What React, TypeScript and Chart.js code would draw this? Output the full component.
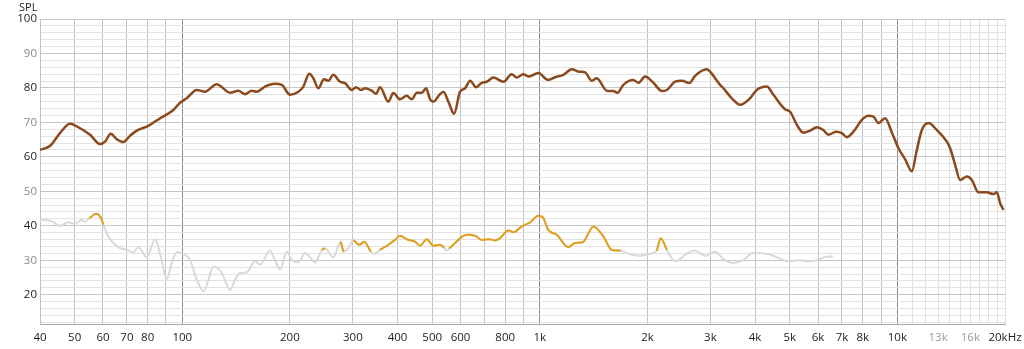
import React, { useEffect, useRef } from 'react';
import { Chart, registerables } from 'chart.js';

Chart.register(...registerables);

// Frequency response (brown)
const brownFreq = [40, 42.7, 45.5, 48.5, 51.8, 55.2, 58.9, 60.8, 63.1, 65.6, 68.4, 71.4, 74.6, 80.4, 86.7, 94.4, 98.6, 102.9, 109.8, 115.8, 124.8, 136.0, 143.5, 149.8, 156.4, 161.5, 170.4, 181.7, 189.8, 200.2, 211.2, 218.1, 226.6, 232.6, 240.2, 249.1, 256.1, 264.5, 276.2, 285.2, 297.8, 306.2, 316.2, 324.5, 338.8, 348.4, 357.3, 377.0, 389.4, 406.4, 424.4, 438.4, 452.9, 467.7, 480.8, 493.3, 503.9, 523.7, 537.4, 555.0, 575.6, 598.3, 618.0, 638.3, 663.4, 688.1, 710.7, 741.6, 790.9, 834.5, 861.9, 899.2, 928.8, 990.5, 1056, 1103, 1164, 1229, 1290, 1338, 1398, 1443, 1539, 1606, 1648, 1712, 1826, 1886, 1970, 2078, 2193, 2265, 2389, 2495, 2620, 2718, 2932, 2993, 3193, 3262, 3443, 3631, 3873, 4043, 4314, 4501, 4853, 5012, 5233, 5460, 5700, 5953, 6209, 6412, 6741, 6993, 7221, 7536, 7956, 8300, 8572, 8851, 9241, 9651, 10070, 10513, 10976, 11336, 11707, 12215, 12890, 13752, 14049, 14507, 14981, 15643, 16153, 16852, 17789, 18566, 18976, 19381, 19800];
const brownSpl = [62.0, 63.2, 66.9, 69.6, 68.3, 66.4, 63.7, 64.4, 66.7, 65.1, 64.3, 66.1, 67.6, 69.0, 71.2, 73.6, 75.7, 77.0, 79.4, 78.9, 81.1, 78.6, 79.2, 78.2, 79.2, 78.9, 80.4, 81.2, 80.9, 78.0, 78.9, 80.4, 84.1, 82.8, 79.9, 82.5, 82.1, 83.8, 81.8, 81.4, 79.4, 80.2, 79.4, 79.9, 79.2, 78.3, 80.2, 76.0, 78.5, 76.7, 77.7, 76.7, 78.6, 78.6, 79.9, 76.7, 76.0, 78.0, 78.9, 76.0, 72.5, 78.9, 79.9, 82.1, 80.2, 81.5, 81.8, 83.0, 81.8, 84.0, 83.0, 84.0, 83.3, 84.3, 82.3, 83.1, 83.8, 85.4, 84.7, 84.5, 82.1, 82.8, 79.2, 79.1, 78.6, 80.9, 82.3, 81.5, 83.3, 81.5, 79.1, 79.4, 81.8, 82.1, 81.4, 83.5, 85.4, 84.7, 80.9, 79.9, 77.0, 75.1, 77.0, 79.4, 80.4, 78.0, 73.8, 73.1, 69.3, 67.0, 67.6, 68.6, 67.8, 66.4, 67.3, 66.9, 65.7, 67.3, 70.7, 71.9, 71.7, 69.8, 71.2, 67.1, 62.5, 59.3, 55.8, 62.0, 67.8, 69.8, 67.8, 64.4, 62.5, 57.7, 53.3, 54.3, 53.3, 49.7, 49.7, 49.2, 49.7, 46.6, 44.6];

// Distortion / noise curve (light gray)
const grayFreq = [40, 42.7, 45.5, 48.0, 50.1, 52.3, 53.5, 55.0, 57.4, 59.1, 60.2, 62.1, 66.2, 69.9, 73.0, 75.4, 79.6, 83.9, 87.0, 90.5, 93.4, 96.5, 100.7, 105.1, 109.8, 115.0, 118.3, 122.2, 129.0, 136.0, 140.5, 145.1, 151.4, 159.8, 165.0, 176.0, 181.7, 187.7, 196.0, 202.4, 211.2, 220.5, 227.6, 235.1, 245.5, 250.8, 264.5, 277.4, 282.1, 291.4, 301.0, 312.8, 322.4, 336.6, 343.8, 357.3, 377.0, 393.6, 406.4, 424.4, 447.7, 462.4, 482.9, 503.9, 526.1, 540, 549.3, 558, 579.3, 611.3, 631.3, 659.2, 688.1, 725.9, 749.6, 774.0, 816.5, 843.2, 890.1, 939.1, 990.5, 1023, 1056, 1115, 1202, 1255, 1318, 1412, 1506, 1589, 1684, 1768, 1907, 2034, 2124, 2179, 2265, 2389, 2576, 2718, 2899, 3092, 3262, 3472, 3702, 3949, 4314, 4600, 4957, 5287, 5639, 5953, 6275, 6596];
const graySpl = [41.7, 41.5, 40.0, 41.0, 40.6, 41.7, 41.2, 42.2, 43.5, 42.5, 40.3, 36.9, 33.8, 33.0, 32.3, 33.8, 30.9, 36.1, 31.1, 24.5, 29.2, 32.3, 31.9, 30.1, 24.3, 21.0, 24.3, 28.2, 26.3, 21.4, 24.3, 26.3, 26.5, 29.7, 28.7, 32.8, 30.0, 27.4, 32.5, 30.1, 29.4, 32.1, 30.9, 29.4, 33.0, 33.5, 30.9, 35.4, 32.5, 33.5, 35.9, 34.5, 35.4, 32.5, 31.9, 33.0, 34.5, 35.9, 37.1, 36.1, 35.4, 34.2, 36.1, 34.2, 34.5, 33.6, 32.8, 33.4, 35.0, 37.1, 37.4, 37.1, 35.9, 36.1, 35.7, 36.4, 38.6, 38.1, 39.8, 41.0, 42.9, 42.2, 38.8, 37.4, 33.8, 35.0, 35.2, 39.8, 36.9, 33.0, 32.8, 31.9, 31.3, 31.9, 32.8, 36.4, 33.0, 29.7, 31.9, 32.8, 31.3, 32.5, 30.3, 29.2, 30.0, 32.1, 31.9, 30.9, 29.7, 30.0, 29.7, 30.0, 30.9, 31.1];

// Highlighted (orange) parts of the gray curve; null = break
const orangeFreq = [55.0, 57.4, 59.1, 60.2, 61, 245.5, 250.8, 258, 277.4, 282.1, 287, 301.0, 312.8, 322.4, 336.6, 350, 357.3, 377.0, 393.6, 406.4, 424.4, 447.7, 462.4, 482.9, 503.9, 526.1, 540, 549.3, 558, 579.3, 611.3, 631.3, 659.2, 688.1, 725.9, 749.6, 774.0, 816.5, 843.2, 890.1, 939.1, 990.5, 1023, 1056, 1115, 1202, 1255, 1318, 1412, 1506, 1589, 1684, 1900, 2124, 2179, 2265];
const orangeSpl: (number | null)[] = [42.2, 43.5, 42.5, 40.3, null, 33.0, 33.5, null, 35.4, 32.5, null, 35.9, 34.5, 35.4, 32.5, null, 33.0, 34.5, 35.9, 37.1, 36.1, 35.4, 34.2, 36.1, 34.2, 34.5, 33.6, null, 33.4, 35.0, 37.1, 37.4, 37.1, 35.9, 36.1, 35.7, 36.4, 38.6, 38.1, 39.8, 41.0, 42.9, 42.2, 38.8, 37.4, 33.8, 35.0, 35.2, 39.8, 36.9, 33.0, 32.8, null, 32.8, 36.4, 33.0];

// Axis ticks
const xTickValues = [40, 50, 60, 70, 80, 90, 100, 200, 300, 400, 500, 600, 700, 800, 900, 1000, 2000, 3000, 4000, 5000, 6000, 7000, 8000, 9000, 10000, 11000, 12000, 13000, 14000, 15000, 16000, 17000, 18000, 19000, 20000];
const xTickLabelValues = [40, 50, 60, 70, 80, 100, 200, 300, 400, 500, 600, 800, 1000, 2000, 3000, 4000, 5000, 6000, 7000, 8000, 10000, 13000, 16000, 20000];
const xTickLabelTexts = ['40', '50', '60', '70', '80', '100', '200', '300', '400', '500', '600', '800', '1k', '2k', '3k', '4k', '5k', '6k', '7k', '8k', '10k', '13k', '16k', '20kHz'];
const yTickValues = [12, 14, 16, 18, 20, 22, 24, 26, 28, 30, 32, 34, 36, 38, 40, 42, 44, 46, 48, 50, 52, 54, 56, 58, 60, 62, 64, 66, 68, 70, 72, 74, 76, 78, 80, 82, 84, 86, 88, 90, 92, 94, 96, 98, 100];
const yMin = 11.5;
const yMax = 100;
const yAxisTitle = 'SPL';

const FONT = '"Open Sans", "Noto Sans", sans-serif';

const toPoints = (fs: number[], vs: (number | null)[]) => fs.map((f, i) => ({ x: f, y: vs[i] }));

export default function App() {
  const canvasRef = useRef<HTMLCanvasElement | null>(null);

  useEffect(() => {
    if (!canvasRef.current) return;
    const splPlugin = {
      id: 'splTitle',
      afterDraw(chart: any) {
        const ctx = chart.ctx;
        ctx.save();
        ctx.font = `11px ${FONT}`;
        ctx.fillStyle = '#222';
        ctx.textAlign = 'left';
        ctx.textBaseline = 'alphabetic';
        ctx.fillText(yAxisTitle, 19, 11);
        ctx.restore();
      },
    };

    const chart = new Chart(canvasRef.current, {
      type: 'line',
      data: {
        datasets: [
          {
            label: 'SPL',
            data: toPoints(brownFreq, brownSpl),
            borderColor: '#8b4a1e',
            borderWidth: 2.5,
            pointRadius: 0,
            cubicInterpolationMode: 'monotone',
            fill: false,
          },
          {
            label: 'highlight',
            data: toPoints(orangeFreq, orangeSpl),
            borderColor: '#e0a01c',
            borderWidth: 2,
            pointRadius: 0,
            spanGaps: false,
            cubicInterpolationMode: 'monotone',
            fill: false,
          },
          {
            label: 'distortion',
            data: toPoints(grayFreq, graySpl),
            borderColor: '#d9d9d9',
            borderWidth: 2,
            pointRadius: 0,
            cubicInterpolationMode: 'monotone',
            fill: false,
          },
        ],
      },
      options: {
        animation: false,
        responsive: true,
        maintainAspectRatio: false,
        devicePixelRatio: 1,
        layout: { padding: { top: 19, right: 19, left: 0, bottom: 0 } },
        plugins: { legend: { display: false }, tooltip: { enabled: false } },
        scales: {
          x: {
            type: 'logarithmic',
            min: 40,
            max: 20000,
            afterBuildTicks: (scale: any) => {
              scale.ticks = xTickValues.map((v) => ({ value: v }));
            },
            afterFit: (scale: any) => {
              scale.height = 25;
              scale.paddingLeft = 0;
              scale.paddingRight = 0;
            },
            border: { display: true, color: '#a8a8a8' },
            grid: {
              drawTicks: false,
              lineWidth: 1,
              color: (ctx: any) => {
                const v = ctx.tick ? ctx.tick.value : 0;
                if (v === 100 || v === 1000 || v === 10000) return '#8a8a8a';
                if (v > 10000) return '#e0e0e0';
                return '#c2c2c2';
              },
            },
            ticks: {
              autoSkip: false,
              maxRotation: 0,
              minRotation: 0,
              padding: 7,
              font: { family: FONT, size: 11.5 },
              color: (ctx: any) => {
                const v = ctx.tick ? ctx.tick.value : 0;
                return v === 13000 || v === 16000 ? '#9a9a9a' : '#222';
              },
              callback: (value: any) => {
                const i = xTickLabelValues.indexOf(Number(value));
                return i >= 0 ? xTickLabelTexts[i] : '';
              },
            },
          },
          y: {
            type: 'linear',
            min: yMin,
            max: yMax,
            afterBuildTicks: (scale: any) => {
              scale.ticks = yTickValues.map((v) => ({ value: v }));
            },
            afterFit: (scale: any) => {
              scale.width = 40;
              scale.paddingTop = 0;
              scale.paddingBottom = 0;
            },
            border: { display: true, color: '#c2c2c2' },
            grid: {
              drawTicks: false,
              lineWidth: 1,
              color: (ctx: any) => {
                const v = ctx.tick ? ctx.tick.value : 0;
                return v % 10 === 0 ? '#c6c6c6' : '#e2e2e2';
              },
            },
            ticks: {
              autoSkip: false,
              padding: 3,
              font: { family: FONT, size: 11.5 },
              color: (ctx: any) => {
                const v = ctx.tick ? ctx.tick.value : 0;
                return v % 20 === 0 ? '#222' : '#8a8a8a';
              },
              callback: (value: any) => (Number(value) % 10 === 0 ? String(value) : ''),
            },
          },
        },
      },
      plugins: [splPlugin],
    } as any);

    return () => chart.destroy();
  }, []);

  return (
    <div style={{ position: 'absolute', left: 0, top: 0, width: 1024, height: 349, background: '#fff' }}>
      <canvas ref={canvasRef} />
    </div>
  );
}
